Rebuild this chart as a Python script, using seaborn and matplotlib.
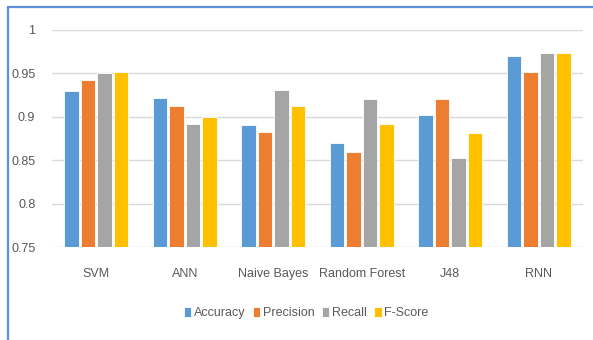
import matplotlib
matplotlib.use("Agg")
import matplotlib.pyplot as plt
from matplotlib.lines import Line2D
import seaborn as sns
import pandas as pd

models = ["SVM", "ANN", "Naive Bayes", "Random Forest", "J48", "RNN"]
accuracy = [0.930, 0.922, 0.891, 0.870, 0.902, 0.970]
precision = [0.942, 0.913, 0.882, 0.860, 0.921, 0.952]
recall = [0.951, 0.892, 0.931, 0.921, 0.852, 0.974]
f_score = [0.952, 0.900, 0.912, 0.892, 0.881, 0.974]
metrics = ["Accuracy", "Precision", "Recall", "F-Score"]
y_ticks = [0.75, 0.8, 0.85, 0.9, 0.95, 1]
y_tick_labels = ["0.75", "0.8", "0.85", "0.9", "0.95", "1"]

palette = ["#5B9BD5", "#ED7D31", "#A5A5A5", "#FFC000"]

rows = []
for metric, vals in zip(metrics, [accuracy, precision, recall, f_score]):
    for m, v in zip(models, vals):
        rows.append({"Model": m, "Metric": metric, "Value": v})
df = pd.DataFrame(rows)

sns.set_theme(style="white")
plt.rcParams["font.family"] = ["Liberation Sans Narrow", "Liberation Sans", "DejaVu Sans"]

fig = plt.figure(figsize=(5.93, 3.40), dpi=100)
ax = fig.add_axes([52 / 593, 1 - 247 / 340, 531 / 593, 217 / 340])

sns.barplot(data=df, x="Model", y="Value", hue="Metric", order=models,
            hue_order=metrics, palette=palette, width=0.74, gap=0.12,
            edgecolor="white", linewidth=0.6, saturation=1, ax=ax,
            errorbar=None)

ax.set_ylim(0.75, 1.0)
ax.set_yticks(y_ticks)
ax.set_yticklabels(y_tick_labels)
ax.set_xlim(-0.5, len(models) - 0.5)
ax.set_xlabel("")
ax.set_ylabel("")
ax.yaxis.grid(True, color="#D9D9D9", linewidth=1)
ax.set_axisbelow(True)
for s in ax.spines.values():
    s.set_visible(False)
ax.tick_params(axis="both", length=0, colors="#595959", labelsize=9)
ax.tick_params(axis="y", pad=12)
ax.tick_params(axis="x", pad=15)

leg = ax.legend(loc="center", bbox_to_anchor=(306 / 593, 1 - 313 / 340),
                bbox_transform=fig.transFigure, ncol=4, frameon=False,
                fontsize=9, handlelength=0.6, handleheight=0.8,
                handletextpad=0.2, columnspacing=0.6)
for t in leg.get_texts():
    t.set_color("#595959")

# outer blue frame, open at right and bottom
frame_color = "#5B8FD8"
fig.add_artist(Line2D([8 / 593, 1], [1 - 6.5 / 340, 1 - 6.5 / 340],
                      transform=fig.transFigure, color=frame_color, linewidth=1.6))
fig.add_artist(Line2D([8 / 593, 8 / 593], [0, 1 - 6.5 / 340],
                      transform=fig.transFigure, color=frame_color, linewidth=1.6))

fig.savefig("out.png", dpi=100)
